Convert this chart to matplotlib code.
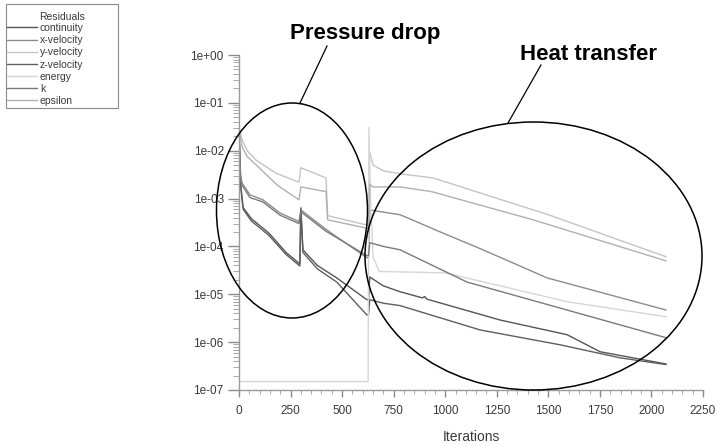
import matplotlib
matplotlib.use("Agg")
import matplotlib.pyplot as plt
from matplotlib.patches import Ellipse, Rectangle
from matplotlib.lines import Line2D
from matplotlib.ticker import FixedLocator, MultipleLocator, FuncFormatter, LogLocator, NullFormatter

plt.rcParams['font.family'] = ['Liberation Sans', 'DejaVu Sans']

# Residual histories: iteration breakpoints and residual values
continuity_it = [0, 8, 20, 60, 145, 228, 295, 300, 310, 380, 474, 620, 628, 634, 700, 781, 890, 900, 912, 1266, 1591, 1751, 2070]
continuity_val = [2.5e-2, 2.0e-3, 6.5e-4, 3.8e-4, 1.9e-4, 7.5e-5, 4.3e-5, 6.4e-4, 8.5e-5, 4.0e-5, 2.2e-5, 7.7e-6, 7.7e-6, 2.3e-5, 1.5e-5, 1.13e-5, 8.4e-6, 9.0e-6, 7.9e-6, 2.9e-6, 1.43e-6, 6.3e-7, 3.5e-7]

x_vel_it = [0, 8, 15, 53, 116, 199, 291, 300, 420, 620, 628, 634, 700, 781, 989, 1183, 1494, 2070]
x_vel_val = [2.5e-2, 3.0e-3, 2.1e-3, 1.2e-3, 9.4e-4, 5.0e-4, 3.3e-4, 5.8e-4, 2.3e-4, 5.8e-5, 5.8e-5, 5.8e-4, 5.2e-4, 4.6e-4, 1.9e-4, 8.5e-5, 2.2e-5, 4.7e-6]

y_vel_it = [0, 15, 40, 82, 179, 291, 300, 422, 430, 620, 628, 632, 650, 700, 781, 941, 1500, 2070]
y_vel_val = [3.2e-2, 1.7e-2, 1.0e-2, 6.4e-3, 3.4e-3, 2.2e-3, 4.4e-3, 2.7e-3, 4.4e-4, 2.8e-4, 2.8e-4, 1.0e-2, 5.0e-3, 3.8e-3, 3.3e-3, 2.7e-3, 4.6e-4, 6.1e-5]

z_vel_it = [0, 8, 20, 60, 145, 228, 295, 300, 310, 380, 474, 620, 628, 634, 700, 781, 1169, 1557, 1848, 2070]
z_vel_val = [2.2e-2, 1.8e-3, 6.0e-4, 3.4e-4, 1.7e-4, 6.8e-5, 3.9e-5, 5.8e-4, 7.5e-5, 3.4e-5, 1.8e-5, 3.7e-6, 3.7e-6, 7.7e-6, 6.5e-6, 5.8e-6, 1.8e-6, 8.8e-7, 4.7e-7, 3.4e-7]

energy_it = [0, 626, 630, 638, 650, 680, 1000, 1591, 2070]
energy_val = [1.5e-7, 1.5e-7, 3.1e-2, 1.0e-3, 6.0e-5, 3.0e-5, 2.8e-5, 7.0e-6, 3.4e-6]

k_it = [0, 8, 15, 53, 116, 199, 291, 300, 420, 620, 628, 634, 700, 781, 1106, 2070]
k_val = [2.2e-2, 2.5e-3, 1.9e-3, 1.05e-3, 8.5e-4, 4.5e-4, 3.0e-4, 5.3e-4, 2.1e-4, 6.4e-5, 6.4e-5, 1.2e-4, 1.0e-4, 8.5e-5, 1.8e-5, 1.24e-6]

epsilon_it = [0, 15, 40, 82, 186, 291, 300, 422, 430, 620, 628, 634, 650, 781, 933, 1426, 2070]
epsilon_val = [2.6e-2, 1.2e-2, 7.5e-3, 5.1e-3, 1.9e-3, 9.4e-4, 1.75e-3, 1.4e-3, 3.6e-4, 2.4e-4, 2.4e-4, 2.0e-3, 1.75e-3, 1.75e-3, 1.4e-3, 3.6e-4, 5.0e-5]

series_names = ["continuity", "x-velocity", "y-velocity", "z-velocity", "energy", "k", "epsilon"]
series_colors = ["#555555", "#8c8c8c", "#c4c4c4", "#5e5e5e", "#d6d6d6", "#7a7a7a", "#b0b0b0"]
series_data = [(continuity_it, continuity_val), (x_vel_it, x_vel_val), (y_vel_it, y_vel_val),
               (z_vel_it, z_vel_val), (energy_it, energy_val), (k_it, k_val), (epsilon_it, epsilon_val)]

decades = [1e-7, 1e-6, 1e-5, 1e-4, 1e-3, 1e-2, 1e-1, 1e0]
x_ticks = [0, 250, 500, 750, 1000, 1250, 1500, 1750, 2000, 2250]

W, H = 718, 447
fig = plt.figure(figsize=(W / 100, H / 100), dpi=100)
ax = fig.add_axes([239 / W, 1 - 390 / H, 464 / W, 335 / H])

handles = []
for name, color, (it, val) in zip(series_names, series_colors, series_data):
    ln, = ax.plot(it, val, color=color, lw=1.0, label=name)
    handles.append(ln)

ax.set_yscale('log')
ax.set_ylim(1e-7, 1)
ax.set_xlim(0, 2250)

for s in ("top", "right"):
    ax.spines[s].set_visible(False)
for s in ("left", "bottom"):
    ax.spines[s].set_color("#9a9a9a")
    ax.spines[s].set_linewidth(1.0)

ax.yaxis.set_major_locator(FixedLocator(decades))
ax.yaxis.set_major_formatter(FuncFormatter(lambda v, p: f"{v:.0e}"))
ax.yaxis.set_minor_locator(LogLocator(base=10, subs=range(2, 10)))
ax.yaxis.set_minor_formatter(NullFormatter())
ax.xaxis.set_major_locator(FixedLocator(x_ticks))
ax.xaxis.set_minor_locator(MultipleLocator(50))

ax.tick_params(axis='both', which='major', color='#8a8a8a', labelcolor='#3a3a3a', labelsize=8.5, width=1.0)
ax.tick_params(axis='y', which='major', length=8, pad=3)
ax.tick_params(axis='y', which='minor', length=4, color='#9a9a9a')
ax.tick_params(axis='x', which='major', length=5, pad=6)
ax.tick_params(axis='x', which='minor', length=3, color='#9a9a9a')

ax.set_xlabel("Iterations", fontsize=10, color='#3a3a3a', labelpad=9)

# Residuals legend in a plain box at the upper left
fig.add_artist(Rectangle((6 / W, 1 - 108 / H), 112 / W, 104 / H, transform=fig.transFigure,
                         fill=False, ec='#8a8a8a', lw=0.8))
fig.text(62 / W, 1 - 17 / H, "Residuals", ha='center', va='center', fontsize=7.5, color='#3a3a3a')
leg = fig.legend(handles=handles, loc='upper left', bbox_to_anchor=(7 / W, 1 - 23 / H),
                 fontsize=7.5, frameon=False, handlelength=2.9, handletextpad=0.25,
                 borderpad=0.0, labelspacing=0.21, borderaxespad=0)
for t in leg.get_texts():
    t.set_color('#3a3a3a')

# Callouts marking the two solution stages
def fx(x):
    return x / W

def fy(y):
    return 1 - y / H

fig.add_artist(Ellipse((fx(292), fy(210.5)), 151 / W, 215 / H, transform=fig.transFigure,
                       fill=False, ec='black', lw=1.1))
fig.add_artist(Ellipse((fx(533.5), fy(256)), 337 / W, 268 / H, transform=fig.transFigure,
                       fill=False, ec='black', lw=1.1))
fig.add_artist(Line2D([fx(327), fx(300)], [fy(46), fy(103)], transform=fig.transFigure,
                      color='black', lw=0.9))
fig.add_artist(Line2D([fx(541), fx(508)], [fy(65), fy(123)], transform=fig.transFigure,
                      color='black', lw=0.9))
fig.text(fx(365), fy(33), "Pressure drop", ha='center', va='center', fontsize=16,
         fontweight='bold', color='black')
fig.text(fx(588), fy(55), "Heat transfer", ha='center', va='center', fontsize=16,
         fontweight='bold', color='black')

fig.savefig("out.png", dpi=100)
